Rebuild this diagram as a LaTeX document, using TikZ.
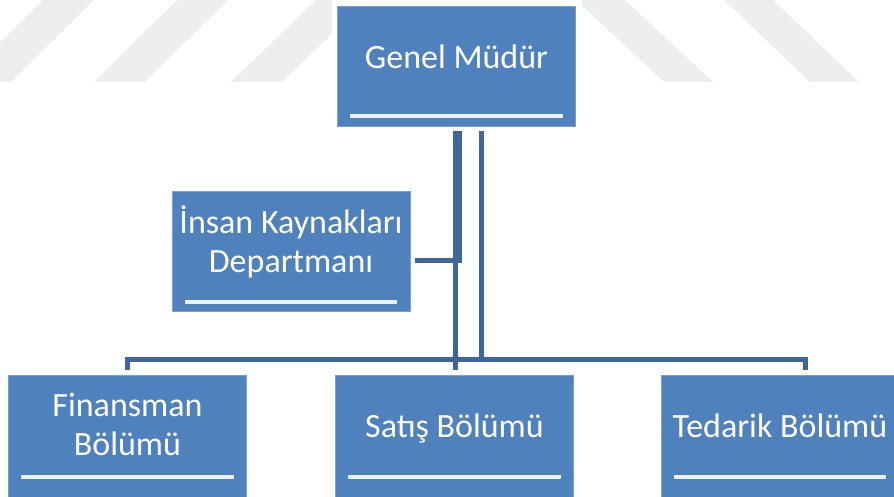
\documentclass[tikz,border=0pt]{standalone}
\usepackage{fontspec}
\setmainfont{Carlito}
\definecolor{boxblue}{RGB}{79,129,189}
\definecolor{linkblue}{RGB}{62,102,153}
\definecolor{barwhite}{RGB}{236,242,250}
\definecolor{stripegray}{RGB}{238,238,238}
\tikzstyle{unit} = [rectangle, draw=boxblue!75!white, line width=0.8pt, fill=boxblue,
    text=white, minimum width=238pt, minimum height=120pt, inner sep=0pt,
    align=center, font=\fontsize{34}{39}\selectfont,
    preaction={draw=white, line width=12pt}]
\tikzstyle{line} = [draw=linkblue, line width=4.5pt, shorten <=5pt, shorten >=5pt]
\tikzstyle{underline} = [draw=barwhite, line width=4pt]
\tikzstyle{stripe} = [fill=stripegray]
\begin{document}
\begin{tikzpicture}[x=1pt, y=1pt, node distance=374pt]
        \useasboundingbox (0,0) rectangle (894,-496);
        % Background stripes
        \foreach \t/\b in {43/-40, 177/94, 316/231}
            \fill [stripe] (\t,0) -- (\t+51,0) -- (\b+51,-82) -- (\b,-82) -- cycle;
        \foreach \t/\b in {576/664, 724/810}
            \fill [stripe] (\t,0) -- (\t+49,0) -- (\b+49,-82) -- (\b,-82) -- cycle;
        % Place nodes
        \node [unit, text height=62pt, text depth=58pt] (gm) at (456.5,-66) {Genel Müdür};
        \node [unit, below of=gm, xshift=-2pt, minimum height=130pt, text height=62pt, text depth=68pt] (sat) {Satış Bölümü};
        \node [unit, node distance=327pt, left of=sat, minimum height=130pt, text height=80pt, text depth=50pt] (fin) {Finansman\\Bölümü};
        \node [unit, node distance=325.5pt, right of=sat, minimum height=130pt, text height=62pt, text depth=68pt] (ted) {Tedarik Bölümü};
        \node [unit, text height=81pt, text depth=39pt] (ik) at (291,-251) {İnsan Kaynakları\\Departmanı};
        % White bars
        \foreach \n/\d in {gm/110, ik/111, fin/102, sat/102, ted/102}
            \draw [underline] ([xshift=13pt, yshift=-\d pt]\n.north west) -- ([xshift=-13pt, yshift=-\d pt]\n.north east);
        % Draw edges
        \path [line] ([xshift=-1pt]gm.south) -- ([xshift=1pt]sat.north);
        \path [line] ([xshift=3pt]gm.south) |- ([yshift=-9.5pt]ik.east);
        \path [line] ([xshift=25pt]gm.south) |- ([yshift=15pt]fin.north) -- (fin.north);
        \path [line] ([xshift=25pt]gm.south) |- ([xshift=25.5pt, yshift=15pt]ted.north) -- ([xshift=25.5pt]ted.north);
\end{tikzpicture}
\end{document}
